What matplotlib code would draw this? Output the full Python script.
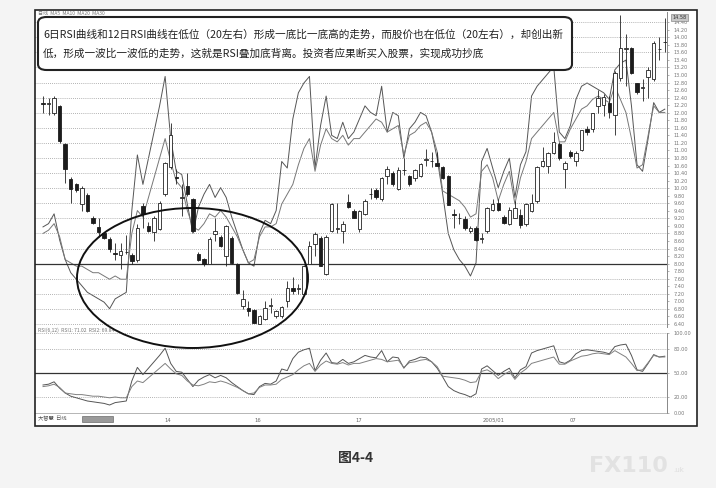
import numpy as np
import matplotlib
matplotlib.use("Agg")
import matplotlib.pyplot as plt
from matplotlib.patches import Ellipse, FancyBboxPatch, Rectangle

CJK = ["Noto Sans CJK SC", "DejaVu Sans"]

# daily candles (index = trading day)
opens = [12.25, 12.24, 11.98, 12.17, 11.18, 10.25, 10.12, 9.59, 9.83, 9.22,
         8.98, 8.82, 8.66, 8.27, 8.23, 8.30, 8.23, 8.10, 9.53, 9.00,
         8.84, 8.92, 9.85, 10.55, 10.30, 9.75, 10.07, 9.72, 8.26, 8.13,
         8.00, 8.79, 8.71, 8.20, 8.68, 7.99, 6.88, 6.83, 6.77, 6.40,
         6.53, 6.88, 6.62, 6.60, 7.00, 7.35, 7.34, 7.20, 8.00, 8.53,
         8.68, 7.73, 8.87, 8.92, 8.87, 9.64, 9.40, 8.92, 9.32, 9.85,
         9.96, 9.72, 10.31, 10.41, 9.99, 10.47, 10.31, 10.28, 10.33, 10.76,
         10.71, 10.68, 10.55, 10.33, 9.30, 9.20, 9.19, 8.87, 8.95, 8.66,
         8.87, 9.43, 9.61, 9.24, 9.06, 9.22, 9.30, 9.06, 9.40, 9.67,
         10.60, 10.60, 10.92, 11.18, 10.52, 10.95, 10.73, 11.00, 11.58, 11.58,
         12.17, 12.20, 12.27, 11.93, 12.91, 13.70, 13.71, 12.78, 12.66, 12.94,
         12.90, 13.68, 13.87]
highs = [12.45, 12.40, 12.45, 12.20, 11.20, 10.30, 10.15, 10.05, 9.86, 9.25,
         9.20, 8.85, 8.70, 8.55, 8.55, 8.75, 8.28, 9.05, 9.60, 9.10,
         9.25, 9.65, 10.70, 11.72, 10.50, 10.10, 10.40, 9.75, 8.30, 8.16,
         8.70, 9.20, 8.75, 9.02, 8.72, 8.02, 7.30, 7.00, 6.80, 6.65,
         7.00, 7.10, 6.78, 6.88, 7.55, 7.65, 7.45, 7.96, 8.60, 8.85,
         8.72, 8.75, 9.62, 9.60, 9.12, 9.85, 9.45, 9.42, 9.70, 10.00,
         10.00, 10.30, 10.60, 10.45, 10.55, 10.80, 10.35, 10.52, 10.66, 11.05,
         10.95, 10.95, 10.60, 10.35, 9.45, 9.35, 9.25, 9.00, 9.00, 8.80,
         9.50, 9.70, 9.70, 9.30, 9.50, 9.65, 9.45, 9.62, 9.85, 10.58,
         11.10, 10.95, 11.50, 11.22, 10.72, 11.00, 10.98, 11.55, 11.65, 12.00,
         12.60, 12.50, 12.45, 13.10, 14.59, 14.10, 13.75, 12.80, 12.90, 13.20,
         13.90, 14.00, 14.50]
lows = [12.00, 11.95, 11.95, 11.20, 10.15, 9.60, 9.90, 9.40, 9.38, 9.05,
        8.70, 8.65, 8.30, 8.10, 7.85, 8.25, 8.00, 8.05, 8.95, 8.85,
        8.60, 8.90, 9.80, 10.50, 10.10, 9.25, 9.80, 8.85, 8.08, 7.95,
        7.98, 8.60, 8.45, 7.95, 8.00, 7.20, 6.80, 6.60, 6.42, 6.40,
        6.50, 6.70, 6.55, 6.55, 6.85, 7.20, 7.20, 7.18, 7.98, 8.20,
        7.94, 7.70, 8.85, 8.80, 8.55, 9.48, 9.20, 8.85, 9.30, 9.70,
        9.70, 9.65, 10.10, 10.05, 9.95, 10.35, 10.05, 10.20, 10.30, 10.60,
        10.55, 10.58, 10.25, 9.55, 8.95, 9.05, 8.90, 8.80, 8.60, 8.55,
        8.80, 9.40, 9.40, 9.05, 9.02, 9.20, 8.95, 9.00, 9.38, 9.60,
        10.55, 10.40, 10.90, 10.75, 10.00, 10.80, 10.60, 10.98, 11.40, 11.50,
        12.00, 11.90, 11.85, 11.40, 12.85, 12.70, 13.02, 12.50, 12.30, 12.40,
        12.85, 13.40, 13.60]
closes = [12.24, 12.25, 12.38, 11.24, 10.52, 9.99, 9.96, 10.01, 9.40, 9.08,
          8.84, 8.68, 8.39, 8.25, 8.34, 8.31, 8.07, 8.95, 9.32, 8.87,
          9.22, 9.60, 10.68, 11.40, 10.28, 9.76, 9.85, 8.87, 8.10, 7.99,
          8.66, 8.87, 8.47, 9.00, 8.02, 7.22, 7.06, 6.74, 6.43, 6.61,
          6.83, 6.89, 6.75, 6.85, 7.35, 7.27, 7.35, 7.94, 8.47, 8.79,
          7.95, 8.71, 9.59, 8.93, 9.05, 9.51, 9.22, 9.40, 9.67, 9.84,
          9.77, 10.28, 10.52, 10.12, 10.47, 10.48, 10.12, 10.49, 10.63, 10.77,
          10.72, 10.60, 10.28, 9.56, 9.29, 9.21, 8.95, 8.95, 8.63, 8.67,
          9.48, 9.59, 9.43, 9.08, 9.43, 9.48, 9.03, 9.59, 9.61, 10.55,
          10.71, 10.92, 11.23, 10.79, 10.68, 10.84, 10.92, 11.53, 11.48, 11.98,
          12.38, 12.43, 12.01, 13.04, 13.71, 13.72, 13.04, 12.54, 12.67, 13.12,
          13.84, 13.69, 13.88]

rsi6 = [35, 36, 39, 31, 25, 21, 19, 17, 15, 14,
        13, 12, 10, 13, 14, 15, 40, 57, 48, 56,
        64, 72, 81, 62, 52, 51, 42, 33, 41, 45,
        48, 44, 47, 44, 38, 33, 28, 24, 23, 33,
        37, 36, 40, 55, 53, 68, 76, 79, 81, 53,
        66, 75, 63, 62, 67, 62, 64, 68, 72, 70,
        69, 78, 64, 70, 69, 56, 65, 67, 70, 69,
        64, 56, 45, 33, 28, 25, 23, 20, 24, 55,
        59, 53, 47, 52, 56, 44, 54, 58, 75, 78,
        80, 82, 84, 64, 62, 66, 74, 78, 79, 78,
        77, 76, 74, 83, 85, 86, 72, 54, 52, 62,
        73, 70, 71]
rsi12 = [33, 34, 36, 32, 25, 24, 23, 23, 22, 21,
         21, 20, 19, 20, 19, 19, 33, 40, 38, 44,
         50, 56, 62, 55, 49, 47, 40, 35, 34, 36,
         39, 38, 40, 38, 35, 32, 28, 24, 25, 32,
         35, 35, 36, 42, 45, 48, 54, 59, 62, 52,
         60, 65, 62, 61, 63, 60, 62, 62, 64, 66,
         68, 67, 64, 65, 66, 57, 63, 64, 66, 67,
         64, 58, 46, 45, 44, 43, 41, 38, 39, 52,
         54, 50, 43, 48, 52, 42, 50, 55, 62, 64,
         66, 68, 70, 61, 61, 65, 68, 71, 72, 74,
         75, 74, 73, 78, 74, 70, 62, 53, 54, 63,
         72, 70, 70]

date_pos = [22.5, 38.7, 56.8, 81.1, 95.5]
date_labels = ["14", "16", "17", "2005/01", "07"]
rsi_ticks = [0, 20, 50, 80, 100]

note_1 = "6日RSI曲线和12日RSI曲线在低位（20左右）形成一底比一底高的走势，而股价也在低位（20左右），却创出新"
note_2 = "低，形成一波比一波低的走势，这就是RSI叠加底背离。投资者应果断买入股票，实现成功抄底"

W, H = 716, 488


def fx(px):
    return px / W


def fy(py):
    return 1 - py / H


fig = plt.figure(figsize=(W / 100, H / 100), dpi=100)
fig.patch.set_facecolor("#f4f4f4")

# chart frame
fig.add_artist(Rectangle((fx(35), fy(426)), fx(697) - fx(35), 416 / H,
                         transform=fig.transFigure, facecolor="white",
                         edgecolor="none", zorder=-5))
fig.add_artist(Rectangle((fx(35), fy(426)), fx(697) - fx(35), 416 / H,
                         transform=fig.transFigure, fill=False,
                         edgecolor="#222222", lw=1.2, zorder=20))

x = np.arange(len(closes))
xlim = (-1.44, 112.4)
main_rect = [fx(35), fy(327), fx(667) - fx(35), (327 - 12) / H]

# RSI overlay drawn underneath the candles
ov = fig.add_axes(main_rect)
ov.set_xlim(*xlim)
ov.set_ylim(4.4, 100.7)
ov.plot(x, rsi6, color="#555555", lw=0.7)
ov.plot(x, rsi12, color="#777777", lw=0.7)
ov.axis("off")

ax = fig.add_axes(main_rect)
ax.patch.set_visible(False)
ax.set_xlim(*xlim)
ax.set_ylim(6.32, 14.67)
for lvl in np.arange(6.4, 14.41, 0.4):
    ax.axhline(lvl, color="#9a9a9a", lw=0.6, ls=(0, (1, 1.5)), zorder=0)
ax.axhline(8.0, color="#333333", lw=0.9, zorder=0)

o = np.array(opens)
c = np.array(closes)
up = c >= o
body = np.maximum(np.abs(c - o), 0.015)
ax.vlines(x, lows, highs, color="#222222", lw=0.6, zorder=2)
ax.bar(x[up], body[up], bottom=o[up], width=0.62, color="white",
       edgecolor="#222222", lw=0.6, zorder=3)
ax.bar(x[~up], body[~up], bottom=c[~up], width=0.62, color="#1c1c1c",
       edgecolor="#1c1c1c", lw=0.6, zorder=3)

ax.yaxis.tick_right()
ticks = np.arange(6.4, 14.41, 0.2)
ax.set_yticks(ticks)
ax.set_yticklabels([f"{t:.2f}" for t in ticks])
ax.tick_params(axis="y", labelsize=3.6, colors="#777777", length=1.5,
               width=0.4, pad=3)
ax.set_xticks([])
for s in ["top", "left", "bottom"]:
    ax.spines[s].set_visible(False)
ax.spines["right"].set_color("#888888")
ax.spines["right"].set_linewidth(0.7)
ax.text(1.008, 0.982, "14.58", transform=ax.transAxes, fontsize=3.6,
        color="#333333", va="center",
        bbox=dict(boxstyle="square,pad=0.25", fc="#c8c8c8", ec="#777777", lw=0.4))

# lower RSI panel
ar = fig.add_axes([fx(35), fy(413), fx(667) - fx(35), 80 / H])
ar.patch.set_visible(False)
ar.set_xlim(*xlim)
ar.set_ylim(0, 100)
ar.plot(x, rsi6, color="#555555", lw=0.7)
ar.plot(x, rsi12, color="#808080", lw=0.7)
for lvl in [20, 80, 100]:
    ar.axhline(lvl, color="#9a9a9a", lw=0.6, ls=(0, (1, 1.5)), zorder=0)
ar.axhline(50, color="#333333", lw=0.9, zorder=0)
ar.yaxis.tick_right()
ar.set_yticks(rsi_ticks)
ar.set_yticklabels([f"{t:.2f}" for t in rsi_ticks])
ar.tick_params(axis="y", labelsize=3.6, colors="#777777", length=1.5,
               width=0.4, pad=3)
ar.set_xticks(date_pos)
ar.set_xticklabels(date_labels)
ar.tick_params(axis="x", labelsize=3.8, colors="#666666", length=0, pad=3.5)
for s in ["top", "left"]:
    ar.spines[s].set_visible(False)
ar.spines["right"].set_color("#888888")
ar.spines["right"].set_linewidth(0.7)
ar.spines["bottom"].set_color("#999999")
ar.spines["bottom"].set_linewidth(0.5)

# small header texts
fig.text(fx(38), fy(13.5), "日线  MA5  MA10  MA20  MA30", fontsize=3.6,
         color="#777777", family=CJK, va="center")
fig.text(fx(38), fy(330.5), "RSI(6,12)  RSI1: 71.02  RSI2: 69.84", fontsize=3.6,
         color="#777777", family=CJK, va="center")
fig.text(fx(38), fy(419), "大智慧  日线", fontsize=3.8, color="#555555",
         family=CJK, va="center")
fig.add_artist(Rectangle((fx(82), fy(422)), 31 / W, 6 / H,
                         transform=fig.transFigure, fc="#9a9a9a",
                         ec="#555555", lw=0.4, zorder=6))

# annotation box
fig.add_artist(FancyBboxPatch((fx(38), fy(70)), (572 - 38) / W, 53 / H,
                              boxstyle="round,pad=0,rounding_size=0.012",
                              transform=fig.transFigure, fc="white",
                              ec="#222222", lw=1.5, zorder=12))
fig.text(fx(43), fy(35), note_1, fontsize=7.65, family=CJK, color="#222222",
         va="center", zorder=13)
fig.text(fx(43), fy(53), note_2, fontsize=7.65, family=CJK, color="#222222",
         va="center", zorder=13)

# highlighted divergence zone
fig.add_artist(Ellipse((fx(192.5), fy(278)), 231 / W, 140 / H,
                       transform=fig.transFigure, fill=False,
                       ec="#111111", lw=1.4, zorder=11))

fig.text(fx(356), fy(458), "图4-4", fontsize=10, fontweight="bold",
         family=CJK, color="#333333", ha="center", va="center")
fig.text(fx(628), fy(466), "FX110", fontsize=16, fontweight="bold",
         color="#e2e2e2", ha="center", va="center")
fig.text(fx(673), fy(470), ".uk", fontsize=5, color="#dcdcdc",
         ha="left", va="center")

fig.savefig("out.png", dpi=100, facecolor=fig.get_facecolor())
